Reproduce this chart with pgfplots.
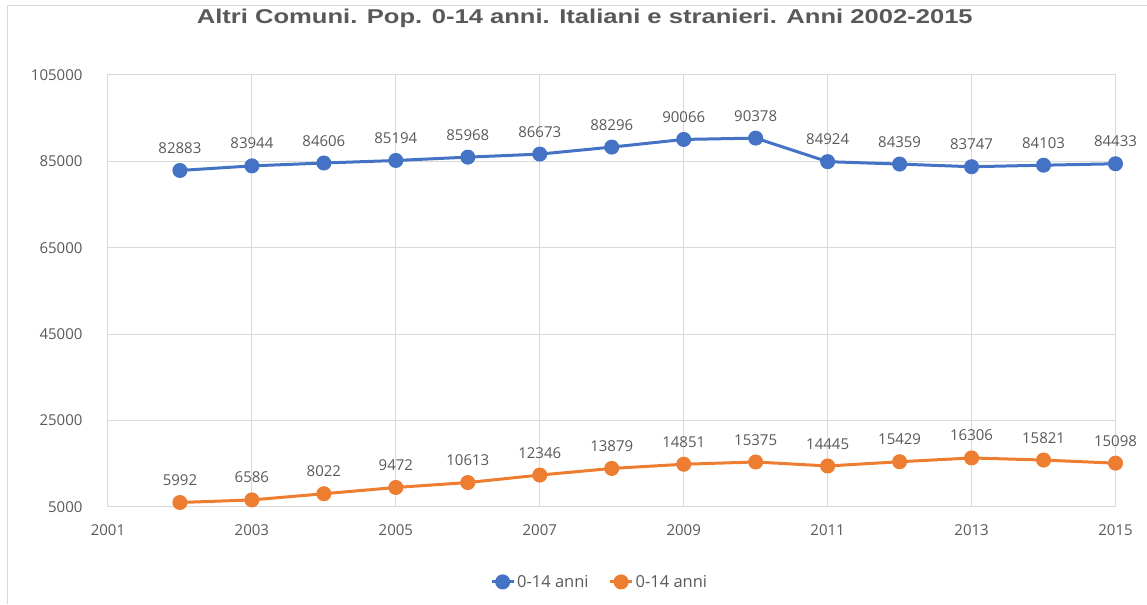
\documentclass[border=0pt]{standalone}
\usepackage{pgfplots}
\pgfplotsset{compat=1.18}
\usepackage{fontspec}
\setmainfont{Open Sans}
\newfontfamily\titlefont{Liberation Sans}
\definecolor{xlblue}{HTML}{4472C4}
\definecolor{xlorange}{HTML}{ED7D31}
\definecolor{txtgray}{HTML}{595959}
\definecolor{gridgray}{HTML}{D9D9D9}
\pgfkeys{/pgf/number format/.cd,fixed,precision=0,1000 sep={}}

\begin{document}
\begin{tikzpicture}[x=1pt,y=1pt]
\path (0,0) rectangle (1147,604);
\draw[gridgray, line width=1pt] (8,0) -- (8,598) -- (1147,598);
\node[font=\titlefont\bfseries\fontsize{20}{22}\selectfont, text=txtgray] at (585,586) {\scalebox{1.28}[1]{Altri Comuni. Pop. 0-14 anni. Italiani e stranieri. Anni 2002-2015}};
\begin{axis}[
  at={(108pt,97pt)}, anchor=south west,
  scale only axis, width=1008pt, height=432pt,
  xmin=2001, xmax=2015, ymin=5000, ymax=105000,
  xtick={2001,2003,...,2015}, ytick={5000,25000,...,105000},
  scaled ticks=false,
  grid=major, grid style={gridgray, line width=1pt},
  axis line style={gridgray, line width=1pt},
  tick style={draw=none},
  ticklabel style={font=\fontsize{15}{16}\selectfont, text=txtgray},
  /pgf/number format/assume math mode=true,
  xticklabel style={yshift=-14pt},
  yticklabel style={xshift=-22pt},
  nodes near coords={\pgfmathprintnumber[fixed,precision=0,1000 sep={},assume math mode=true]{\pgfplotspointmeta}},
  every node near coord/.append style={font=\fontsize{15}{16}\selectfont, text=txtgray, anchor=south, yshift=12pt},
  legend columns=2,
  legend style={at={(0.488,-0.174)}, anchor=center, draw=none, fill=none,
    font=\fontsize{16.5}{18}\selectfont, text=txtgray,
    /tikz/every even column/.append style={column sep=18pt}},
  legend image code/.code={
    \draw[#1, line width=3pt] (0pt,0pt) -- (22pt,0pt);
    \fill[#1] (11pt,0pt) circle (6pt);},
]
\addplot[xlblue, line width=3pt, mark=*, mark size=6pt, mark options={fill=xlblue}] coordinates {
(2002,82883)(2003,83944)(2004,84606)(2005,85194)(2006,85968)(2007,86673)(2008,88296)
(2009,90066)(2010,90378)(2011,84924)(2012,84359)(2013,83747)(2014,84103)(2015,84433)};
\addlegendentry{0-14 anni}
\addplot[xlorange, line width=3pt, mark=*, mark size=6pt, mark options={fill=xlorange}] coordinates {
(2002,5992)(2003,6586)(2004,8022)(2005,9472)(2006,10613)(2007,12346)(2008,13879)
(2009,14851)(2010,15375)(2011,14445)(2012,15429)(2013,16306)(2014,15821)(2015,15098)};
\addlegendentry{0-14 anni}
\end{axis}
\end{tikzpicture}
\end{document}
